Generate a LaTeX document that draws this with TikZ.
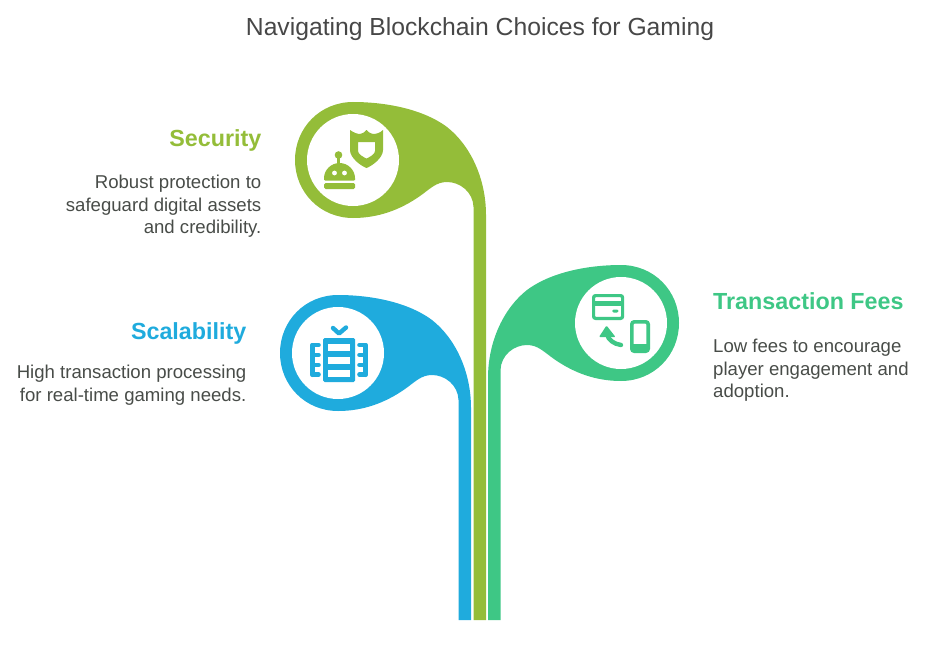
\documentclass[tikz,border=0pt]{standalone}
\usepackage{fontspec}
\setmainfont{Liberation Sans}
\definecolor{securitycol}{HTML}{94BD39}
\definecolor{scalecol}{HTML}{1FABDD}
\definecolor{feescol}{HTML}{3EC785}
\definecolor{bodycol}{HTML}{484C48}
\tikzset{
  petal/.pic={
    \fill[pic actions] (473.5,#1) -- (473.5,207)
      .. controls (473,192) and (460,182) .. (447,182)
      .. controls (436,182) and (430,189) .. (420,196)
      .. controls (400,210) and (378,218) .. (353,218)
      .. controls (320,218) and (295,192) .. (295,160)
      .. controls (295,128) and (320,102) .. (353,102)
      .. controls (380,102) and (420,107) .. (447,127)
      .. controls (470,145) and (486,178) .. (486,215)
      -- (486,#1) -- cycle;
  }
}
\begin{document}
\begin{tikzpicture}
  [x=1pt,y=-1pt,
  hole/.style={shape=circle,fill=white,minimum size=92pt,inner sep=0pt},
  titletext/.style={font=\fontsize{24.7}{28}\selectfont,text=black!72,inner sep=0pt},
  headtext/.style={font=\fontsize{23.3}{28}\selectfont\bfseries,inner sep=0pt},
  bodytext/.style={font=\fontsize{18.6}{22.5}\selectfont,text=bodycol,inner sep=0pt},
  iconline/.style={line cap=round,line join=round}]

  \useasboundingbox (0,0) rectangle (941,658);

  % three stems with their heads
  \pic[fill=securitycol] {petal=620};
  \pic[fill=scalecol,shift={(-15,193)}] at (0,0) {petal=427};
  \pic[fill=feescol,xscale=-1,shift={(-974,163)}] at (0,0) {petal=457};

  \node (hole1) [hole] at (353,160) {};
  \node (hole2) [hole] at (338,353) {};
  \node (hole3) [hole] at (621,323) {};

  % shield and robot
  \fill[securitycol,even odd rule] (350,130) .. controls (354,133) and (358,134) .. (360,134)
     .. controls (362,134) and (365,132) .. (366.5,130) .. controls (368,132) and (371,134) .. (373,134)
     .. controls (376,134) and (380,133) .. (383,130) -- (383,150)
     .. controls (383,158) and (372,166) .. (366.5,168) .. controls (361,166) and (350,158) .. (350,150) -- cycle
     (358,142) -- (375,142) -- (375,151) .. controls (375,154) and (370,157) .. (366.5,158.5)
     .. controls (363,157) and (358,154) .. (358,151) -- cycle;
  \fill[securitycol,rounded corners=1pt] (324,180.5) -- (324,179) arc (180:360:15.5 and 16) -- (355,180.5) -- cycle;
  \fill[securitycol,rounded corners=1.5pt] (324,183) rectangle (355,189);
  \fill[securitycol] (338.5,155) circle (3.8);
  \draw[securitycol,line width=2.4pt] (338.5,157) -- (338.5,165);
  \fill[white] (334.5,173) circle (2.4);
  \fill[white] (344.5,173) circle (2.4);

  % server rack with tick
  \fill[scalecol,rounded corners=1.5pt] (323,338) rectangle (355,382);
  \foreach \rowy in {344,357,370}
    \fill[white] (328,\rowy) rectangle (350,\rowy+7);
  \draw[scalecol,iconline,line width=4.4pt] (333,328) -- (339,333.5) -- (346,327.5);
  \foreach \flip/\barx/\toothx in {1/312.5/318.5,2/365.5/359.5} {
    \draw[scalecol,line width=5pt,line cap=round] (\barx,345.5) -- (\barx,374.5);
    \foreach \toothy in {345,355,365,374.5}
      \draw[scalecol,line width=4.6pt,line cap=round] (\barx,\toothy) -- (\toothx,\toothy);
  }

  % card, phone and arrow
  \draw[feescol,line width=3.2pt,rounded corners=2pt] (593.6,295.6) rectangle (622.6,318.4);
  \fill[feescol] (593,301) rectangle (623,305.5);
  \fill[feescol,rounded corners=1.5pt] (612,309.5) rectangle (618.5,312.5);
  \draw[feescol,line width=3.6pt,rounded corners=2.5pt] (631.8,321.8) rectangle (648.2,351.2);
  \fill[feescol] (632,344) rectangle (648,351);
  \draw[feescol,iconline,line width=4.4pt] (607,334) .. controls (608,340) and (614,344) .. (621,345);
  \fill[feescol,rounded corners=1pt] (606.5,325.5) -- (615.5,337) -- (599,337) -- cycle;

  \node (title) [titletext,anchor=base] at (480,36) {Navigating Blockchain Choices for Gaming};

  \node (security) [headtext,text=securitycol,anchor=base east] at (261.5,146) {Security};
  \node (securitytext) [bodytext,align=right,anchor=north east] at (261.5,175) {Robust protection to\\safeguard digital assets\\and credibility.};

  \node (scalability) [headtext,text=scalecol,anchor=base east] at (246.5,339) {Scalability};
  \node (scalabilitytext) [bodytext,align=right,anchor=north east] at (246.5,365) {High transaction processing\\for real-time gaming needs.};

  \node (fees) [headtext,text=feescol,anchor=base west] at (713,309) {Transaction Fees};
  \node (feestext) [bodytext,align=left,anchor=north west] at (713,339) {Low fees to encourage\\player engagement and\\adoption.};

\end{tikzpicture}
\end{document}
